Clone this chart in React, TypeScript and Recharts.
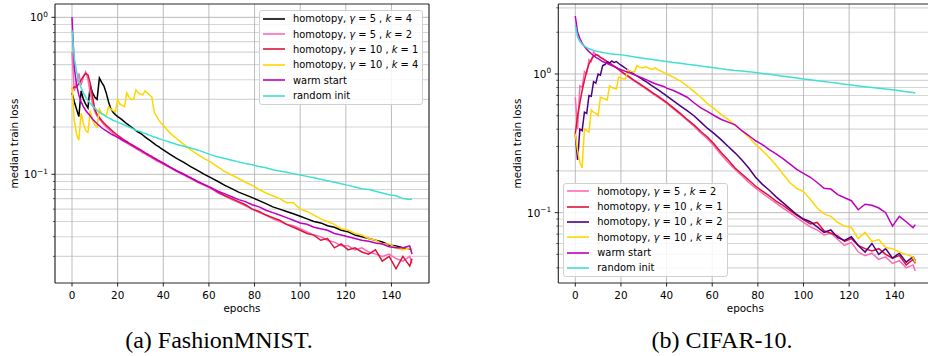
import { LineChart, Line, XAxis, YAxis, CartesianGrid, ReferenceArea, Legend } from "recharts";

// epochs sampled: every epoch up to 40, then every third
const EPOCHS = [
  0, 1, 2, 3, 4, 5, 6, 7, 8, 9, 10, 11, 12, 13, 14, 15, 16, 17, 18, 19, 20,
  21, 22, 23, 24, 25, 26, 27, 28, 29, 30, 31, 32, 33, 34, 35, 36, 37, 38, 39, 40,
  43, 46, 49, 52, 55, 58, 61, 64, 67, 70, 73, 76, 79, 82, 85, 88, 91, 94, 97, 100,
  103, 106, 109, 112, 115, 118, 121, 124, 127, 130, 133, 136, 139, 142, 145, 148, 149,
];
const X_TICKS = [0, 20, 40, 60, 80, 100, 120, 140];

// ---- FashionMNIST ----
const FM_G5_K4 = [
  0.33, 0.29, 0.26, 0.233, 0.34, 0.3, 0.28, 0.265, 0.37, 0.33, 0.31, 0.3, 0.41, 0.385, 0.365, 0.33, 0.29, 0.262, 0.248, 0.24, 0.233,
  0.228, 0.222, 0.216, 0.21, 0.205, 0.2, 0.195, 0.19, 0.186, 0.182, 0.178, 0.173, 0.169, 0.165, 0.161, 0.157, 0.153, 0.15, 0.146, 0.143,
  0.134, 0.126, 0.119, 0.112, 0.106, 0.1, 0.095, 0.09, 0.085, 0.081, 0.077, 0.074, 0.071, 0.068, 0.065, 0.062, 0.06, 0.058, 0.056, 0.054,
  0.052, 0.05, 0.049, 0.047, 0.046, 0.044, 0.043, 0.041, 0.04, 0.039, 0.038, 0.037, 0.0355, 0.035, 0.034, 0.0335, 0.033,
];
const FM_G5_K2 = [
  0.6, 0.34, 0.38, 0.44, 0.37, 0.42, 0.45, 0.4, 0.33, 0.28, 0.25, 0.235, 0.225, 0.215, 0.207, 0.2, 0.194, 0.188, 0.182, 0.177, 0.172,
  0.168, 0.164, 0.161, 0.158, 0.155, 0.152, 0.149, 0.146, 0.143, 0.14, 0.137, 0.135, 0.132, 0.13, 0.127, 0.125, 0.122, 0.12, 0.118, 0.116,
  0.11, 0.104, 0.099, 0.094, 0.089, 0.085, 0.081, 0.076, 0.073, 0.069, 0.066, 0.063, 0.06, 0.057, 0.055, 0.052, 0.05, 0.048, 0.047, 0.045,
  0.043, 0.041, 0.04, 0.038, 0.037, 0.035, 0.035, 0.033, 0.034, 0.032, 0.031, 0.03, 0.031, 0.029, 0.028, 0.03, 0.027,
];
const FM_G10_K1 = [
  0.35, 0.36, 0.36, 0.38, 0.4, 0.42, 0.44, 0.43, 0.38, 0.31, 0.26, 0.24, 0.23, 0.22, 0.212, 0.205, 0.199, 0.193, 0.187, 0.182, 0.177,
  0.173, 0.169, 0.165, 0.162, 0.158, 0.155, 0.152, 0.149, 0.146, 0.143, 0.14, 0.137, 0.134, 0.131, 0.129, 0.126, 0.124, 0.122, 0.12, 0.117,
  0.111, 0.105, 0.1, 0.095, 0.09, 0.086, 0.082, 0.077, 0.073, 0.07, 0.067, 0.064, 0.06, 0.058, 0.055, 0.053, 0.051, 0.048, 0.046, 0.044,
  0.042, 0.041, 0.038, 0.039, 0.034, 0.036, 0.033, 0.034, 0.032, 0.031, 0.033, 0.028, 0.03, 0.025, 0.03, 0.026, 0.029,
];
const FM_G10_K4 = [
  0.36, 0.22, 0.18, 0.165, 0.245, 0.21, 0.19, 0.185, 0.255, 0.22, 0.205, 0.2, 0.26, 0.245, 0.24, 0.235, 0.27, 0.26, 0.255, 0.25, 0.3,
  0.28, 0.275, 0.27, 0.33, 0.31, 0.3, 0.3, 0.345, 0.33, 0.325, 0.32, 0.34, 0.33, 0.32, 0.31, 0.25, 0.235, 0.222, 0.212, 0.205,
  0.183, 0.168, 0.155, 0.143, 0.134, 0.126, 0.119, 0.111, 0.104, 0.099, 0.094, 0.089, 0.085, 0.08, 0.076, 0.073, 0.07, 0.066, 0.066, 0.06,
  0.058, 0.055, 0.052, 0.05, 0.048, 0.045, 0.044, 0.042, 0.041, 0.039, 0.038, 0.036, 0.036, 0.034, 0.033, 0.034, 0.033,
];
const FM_WARM = [
  1.0, 0.48, 0.37, 0.32, 0.29, 0.27, 0.255, 0.245, 0.235, 0.225, 0.217, 0.21, 0.204, 0.198, 0.193, 0.189, 0.185, 0.181, 0.178, 0.175, 0.172,
  0.169, 0.166, 0.163, 0.16, 0.157, 0.154, 0.151, 0.148, 0.145, 0.143, 0.14, 0.137, 0.135, 0.132, 0.13, 0.127, 0.125, 0.122, 0.12, 0.118,
  0.111, 0.105, 0.1, 0.095, 0.09, 0.086, 0.082, 0.078, 0.075, 0.072, 0.069, 0.067, 0.064, 0.062, 0.059, 0.057, 0.055, 0.053, 0.051, 0.049,
  0.048, 0.046, 0.045, 0.044, 0.042, 0.041, 0.04, 0.039, 0.038, 0.0375, 0.0365, 0.036, 0.0345, 0.034, 0.034, 0.035, 0.031,
];
const FM_RANDOM = [
  0.83, 0.55, 0.45, 0.39, 0.355, 0.33, 0.31, 0.295, 0.283, 0.273, 0.264, 0.256, 0.249, 0.243, 0.238, 0.233, 0.229, 0.225, 0.221, 0.218, 0.215,
  0.212, 0.209, 0.206, 0.203, 0.2, 0.197, 0.194, 0.191, 0.189, 0.187, 0.184, 0.182, 0.18, 0.177, 0.175, 0.173, 0.171, 0.169, 0.167, 0.165,
  0.16, 0.155, 0.151, 0.147, 0.143, 0.138, 0.133, 0.129, 0.126, 0.123, 0.12, 0.117, 0.115, 0.112, 0.11, 0.107, 0.105, 0.103, 0.101, 0.099,
  0.097, 0.095, 0.093, 0.091, 0.089, 0.087, 0.085, 0.083, 0.081, 0.08, 0.078, 0.076, 0.074, 0.073, 0.07, 0.069, 0.0695,
];

// ---- CIFAR-10 ----
const CF_G5_K2 = [
  0.68, 0.4, 0.82, 0.8, 1.04, 1.0, 1.27, 1.23, 1.45, 1.38, 1.36, 1.32, 1.29, 1.26, 1.23, 1.2, 1.17, 1.14, 1.11, 1.08, 1.04,
  1.01, 0.985, 0.96, 0.935, 0.91, 0.885, 0.865, 0.84, 0.82, 0.8, 0.78, 0.76, 0.74, 0.72, 0.7, 0.685, 0.667, 0.65, 0.633, 0.615,
  0.56, 0.51, 0.465, 0.42, 0.375, 0.34, 0.3, 0.26, 0.23, 0.205, 0.185, 0.165, 0.15, 0.138, 0.127, 0.117, 0.108, 0.1, 0.092, 0.085,
  0.079, 0.075, 0.069, 0.071, 0.064, 0.058, 0.061, 0.052, 0.049, 0.051, 0.046, 0.048, 0.043, 0.045, 0.04, 0.042, 0.038,
];
const CF_G10_K1 = [
  0.37, 0.5, 0.62, 0.76, 0.9, 1.05, 1.18, 1.27, 1.34, 1.38, 1.36, 1.32, 1.29, 1.26, 1.23, 1.2, 1.17, 1.14, 1.11, 1.08, 1.05,
  1.02, 0.995, 0.97, 0.945, 0.92, 0.895, 0.875, 0.855, 0.83, 0.81, 0.79, 0.77, 0.75, 0.73, 0.712, 0.695, 0.677, 0.66, 0.643, 0.625,
  0.57, 0.52, 0.47, 0.43, 0.385, 0.35, 0.31, 0.27, 0.24, 0.21, 0.19, 0.172, 0.155, 0.143, 0.132, 0.121, 0.113, 0.104, 0.096, 0.089,
  0.083, 0.085, 0.074, 0.071, 0.068, 0.062, 0.065, 0.058, 0.055, 0.053, 0.055, 0.05, 0.047, 0.049, 0.042, 0.046, 0.043,
];
const CF_G10_K2 = [
  0.37, 0.24, 0.4, 0.39, 0.53, 0.52, 0.7, 0.69, 0.88, 0.86, 1.0, 0.98, 1.15, 1.17, 1.22, 1.2, 1.24, 1.21, 1.23, 1.19, 1.16,
  1.13, 1.1, 1.07, 1.04, 1.02, 0.99, 0.97, 0.945, 0.925, 0.9, 0.88, 0.86, 0.835, 0.815, 0.795, 0.775, 0.755, 0.735, 0.715, 0.695,
  0.64, 0.59, 0.545, 0.5, 0.45, 0.405, 0.37, 0.335, 0.3, 0.27, 0.24, 0.21, 0.18, 0.16, 0.145, 0.13, 0.118, 0.107, 0.097, 0.09,
  0.086, 0.079, 0.072, 0.075, 0.066, 0.063, 0.067, 0.058, 0.052, 0.06, 0.05, 0.055, 0.047, 0.051, 0.044, 0.048, 0.045,
];
const CF_G10_K4 = [
  0.37, 0.28, 0.23, 0.21, 0.4, 0.39, 0.38, 0.55, 0.53, 0.52, 0.5, 0.68, 0.67, 0.66, 0.65, 0.82, 0.8, 0.79, 0.78, 0.95, 0.94,
  0.92, 0.92, 1.07, 1.05, 1.04, 1.04, 1.15, 1.12, 1.11, 1.11, 1.13, 1.1, 1.09, 1.08, 1.11, 1.08, 1.06, 1.04, 1.02, 1.0,
  0.95, 0.89, 0.82, 0.75, 0.68, 0.61, 0.56, 0.51, 0.47, 0.43, 0.39, 0.35, 0.31, 0.28, 0.25, 0.22, 0.19, 0.165, 0.15, 0.142,
  0.125, 0.108, 0.098, 0.094, 0.085, 0.08, 0.078, 0.065, 0.072, 0.062, 0.064, 0.056, 0.055, 0.052, 0.05, 0.048, 0.044,
];
const CF_WARM = [
  2.62, 2.0, 1.8, 1.67, 1.58, 1.51, 1.45, 1.4, 1.36, 1.32, 1.29, 1.26, 1.23, 1.21, 1.19, 1.17, 1.15, 1.13, 1.11, 1.09, 1.075,
  1.06, 1.045, 1.03, 1.015, 1.0, 0.985, 0.97, 0.955, 0.94, 0.925, 0.91, 0.895, 0.88, 0.865, 0.85, 0.84, 0.83, 0.82, 0.81, 0.79,
  0.76, 0.72, 0.68, 0.62, 0.57, 0.535, 0.5, 0.47, 0.45, 0.43, 0.39, 0.36, 0.33, 0.31, 0.285, 0.265, 0.245, 0.225, 0.205, 0.192,
  0.18, 0.165, 0.15, 0.148, 0.135, 0.128, 0.122, 0.105, 0.115, 0.113, 0.108, 0.1, 0.08, 0.094, 0.086, 0.078, 0.082,
];
const CF_RANDOM = [
  2.25, 1.85, 1.72, 1.64, 1.59, 1.55, 1.52, 1.5, 1.48, 1.465, 1.45, 1.44, 1.43, 1.42, 1.41, 1.4, 1.395, 1.39, 1.385, 1.38, 1.375,
  1.368, 1.36, 1.352, 1.344, 1.336, 1.328, 1.32, 1.312, 1.305, 1.298, 1.29, 1.283, 1.276, 1.27, 1.263, 1.256, 1.25, 1.243, 1.236, 1.23,
  1.21, 1.195, 1.175, 1.16, 1.14, 1.125, 1.11, 1.09, 1.075, 1.06, 1.05, 1.04, 1.025, 1.01, 0.995, 0.98, 0.965, 0.95, 0.935, 0.92,
  0.908, 0.895, 0.882, 0.87, 0.858, 0.845, 0.832, 0.82, 0.81, 0.8, 0.79, 0.78, 0.77, 0.758, 0.746, 0.735, 0.73,
];

const FM_SERIES = [
  { key: "g5k4", name: "homotopy, γ = 5 , k = 4", color: "#000000", values: FM_G5_K4 },
  { key: "g5k2", name: "homotopy, γ = 5 , k = 2", color: "#ff69b4", values: FM_G5_K2 },
  { key: "g10k1", name: "homotopy, γ = 10 , k = 1", color: "#dc143c", values: FM_G10_K1 },
  { key: "g10k4", name: "homotopy, γ = 10 , k = 4", color: "#ffd700", values: FM_G10_K4 },
  { key: "warm", name: "warm start", color: "#bf00bf", values: FM_WARM },
  { key: "rand", name: "random init", color: "#40e0d0", values: FM_RANDOM },
];
const CF_SERIES = [
  { key: "g5k2", name: "homotopy, γ = 5 , k = 2", color: "#ff69b4", values: CF_G5_K2 },
  { key: "g10k1", name: "homotopy, γ = 10 , k = 1", color: "#dc143c", values: CF_G10_K1 },
  { key: "g10k2", name: "homotopy, γ = 10 , k = 2", color: "#4b0082", values: CF_G10_K2 },
  { key: "g10k4", name: "homotopy, γ = 10 , k = 4", color: "#ffd700", values: CF_G10_K4 },
  { key: "warm", name: "warm start", color: "#bf00bf", values: CF_WARM },
  { key: "rand", name: "random init", color: "#40e0d0", values: CF_RANDOM },
];

const FM_MINOR = [0.03, 0.04, 0.05, 0.06, 0.07, 0.08, 0.09, 0.2, 0.3, 0.4, 0.5, 0.6, 0.7, 0.8, 0.9];
const CF_MINOR = [0.04, 0.05, 0.06, 0.07, 0.08, 0.09, 0.2, 0.3, 0.4, 0.5, 0.6, 0.7, 0.8, 0.9, 2, 3];
const MAJOR = [0.1, 1];

const X_DOMAIN: [number, number] = [-7.45, 156.45];
const FONT = "'DejaVu Sans', sans-serif";
const FS = 10.4;

type Series = { key: string; name: string; color: string; values: number[] };

const isMajor = (v: number) => Math.abs(Math.log10(v) - Math.round(Math.log10(v))) < 1e-6;

const YTick = (props: any) => {
  const { x, y, payload } = props;
  const v = payload.value;
  const major = isMajor(v);
  const len = major ? 3.6 : 2.1;
  const exp = Math.round(Math.log10(v));
  return (
    <g>
      <line x1={x} x2={x - len} y1={y} y2={y} stroke="#000" strokeWidth={major ? 0.85 : 0.6} />
      {major && (
        <text x={x - len - 3.6} y={y + 3.9} textAnchor="end" fontFamily={FONT} fontSize={FS} fill="#000">
          10
          <tspan dy={-4.6} fontSize={7.3}>
            {exp < 0 ? "\u2212" + -exp : exp}
          </tspan>
        </text>
      )}
    </g>
  );
};

const XTick = (props: any) => {
  const { x, y, payload } = props;
  return (
    <g>
      <line x1={x} x2={x} y1={y} y2={y + 3.6} stroke="#000" strokeWidth={0.85} />
      <text x={x} y={y + 15.6} textAnchor="middle" fontFamily={FONT} fontSize={FS} fill="#000">
        {payload.value}
      </text>
    </g>
  );
};

const MathLabel = ({ text }: { text: string }) => (
  <>
    {text.split(/([γk])/).map((part, i) => (i % 2 === 1 ? <i key={i}>{part}</i> : <span key={i}>{part}</span>))}
  </>
);

const LegendBox = ({ series, rowH }: { series: Series[]; rowH: number }) => (
  <div
    style={{
      border: "1px solid #d0d0d0",
      borderRadius: 3,
      background: "rgba(255,255,255,0.85)",
      padding: "0 4px 1px 3px",
      fontFamily: FONT,
      fontSize: 9.9,
      color: "#000",
      whiteSpace: "nowrap",
    }}
  >
    {series.map((s) => (
      <div key={s.key} style={{ display: "flex", alignItems: "center", height: rowH }}>
        <svg width={22} height={4} style={{ marginRight: 8, display: "block" }}>
          <line x1={0} x2={22} y1={2} y2={2} stroke={s.color} strokeWidth={1.6} />
        </svg>
        <span>
          <MathLabel text={s.name} />
        </span>
      </div>
    ))}
  </div>
);

type PanelProps = {
  series: Series[];
  yDomain: [number, number];
  minor: number[];
  left: number;
  width: number;
  yAxisWidth: number;
  rightMargin: number;
  legendLeft: number;
  legendTop: number;
  rowH: number;
};

function LossPanel({ series, yDomain, minor, left, width, yAxisWidth, rightMargin, legendLeft, legendTop, rowH }: PanelProps) {
  const data = EPOCHS.map((epoch, i) => {
    const row: Record<string, number> = { epoch };
    series.forEach((s) => {
      row[s.key] = s.values[i];
    });
    return row;
  });
  const yTicks = [...minor, ...MAJOR].sort((a, b) => a - b);
  return (
    <div style={{ position: "absolute", left, top: 0 }}>
      <LineChart width={width} height={320} data={data} margin={{ top: 4, right: rightMargin, bottom: 0, left: 0 }}>
        <CartesianGrid vertical={false} horizontalValues={minor} stroke="#d6d6d6" strokeWidth={1.1} />
        <CartesianGrid horizontalValues={MAJOR} stroke="#b0b0b0" strokeWidth={0.85} />
        <XAxis
          type="number"
          dataKey="epoch"
          domain={X_DOMAIN}
          allowDataOverflow
          ticks={X_TICKS}
          interval={0}
          tickSize={0}
          tickMargin={0}
          tick={XTick}
          axisLine={false}
          height={37}
        />
        <YAxis
          type="number"
          scale="log"
          domain={yDomain}
          allowDataOverflow
          ticks={yTicks}
          interval={0}
          tickSize={0}
          tickMargin={0}
          tick={YTick}
          axisLine={false}
          width={yAxisWidth}
        />
        {series.map((s) => (
          <Line
            key={s.key}
            type="linear"
            dataKey={s.key}
            name={s.name}
            stroke={s.color}
            strokeWidth={1.5}
            dot={false}
            isAnimationActive={false}
          />
        ))}
        <ReferenceArea
          x1={X_DOMAIN[0]}
          x2={X_DOMAIN[1]}
          y1={yDomain[0]}
          y2={yDomain[1]}
          ifOverflow="visible"
          fill="none"
          stroke="#000"
          strokeWidth={0.85}
        />
        <Legend
          layout="horizontal"
          verticalAlign="middle"
          align="center"
          wrapperStyle={{ left: legendLeft, top: legendTop, width: "auto" }}
          content={() => <LegendBox series={series} rowH={rowH} />}
        />
      </LineChart>
    </div>
  );
}

export default function App() {
  return (
    <div
      style={{
        position: "fixed",
        left: 0,
        top: 0,
        width: 928,
        height: 356,
        overflow: "hidden",
        background: "#fff",
      }}
    >
      <LossPanel
        series={FM_SERIES}
        yDomain={[0.0203, 1.216]}
        minor={FM_MINOR}
        left={0}
        width={440}
        yAxisWidth={55}
        rightMargin={11}
        legendLeft={259}
        legendTop={10}
        rowH={15.4}
      />
      <LossPanel
        series={CF_SERIES}
        yDomain={[0.0311, 3.197]}
        minor={CF_MINOR}
        left={500}
        width={445}
        yAxisWidth={58.3}
        rightMargin={12.7}
        legendLeft={63.3}
        legendTop={182.7}
        rowH={15.3}
      />
      <svg width={928} height={356} style={{ position: "absolute", left: 0, top: 0, pointerEvents: "none" }}>
        <g fontFamily={FONT} fontSize={FS} fill="#000">
          <text x={13.5} y={143.5} transform="rotate(-90 13.5 143.5)" textAnchor="middle" dominantBaseline="central">
            median train loss
          </text>
          <text x={516.7} y={143.5} transform="rotate(-90 516.7 143.5)" textAnchor="middle" dominantBaseline="central">
            median train loss
          </text>
          <text x={242} y={311.5} textAnchor="middle">
            epochs
          </text>
          <text x={745.3} y={311.5} textAnchor="middle">
            epochs
          </text>
        </g>
        <g fontFamily="'Liberation Serif', 'Times New Roman', serif" fontSize={24} fill="#000">
          <text x={219} y={348} textAnchor="middle">
            (a) FashionMNIST.
          </text>
          <text x={722} y={348} textAnchor="middle">
            (b) CIFAR-10.
          </text>
        </g>
      </svg>
    </div>
  );
}
